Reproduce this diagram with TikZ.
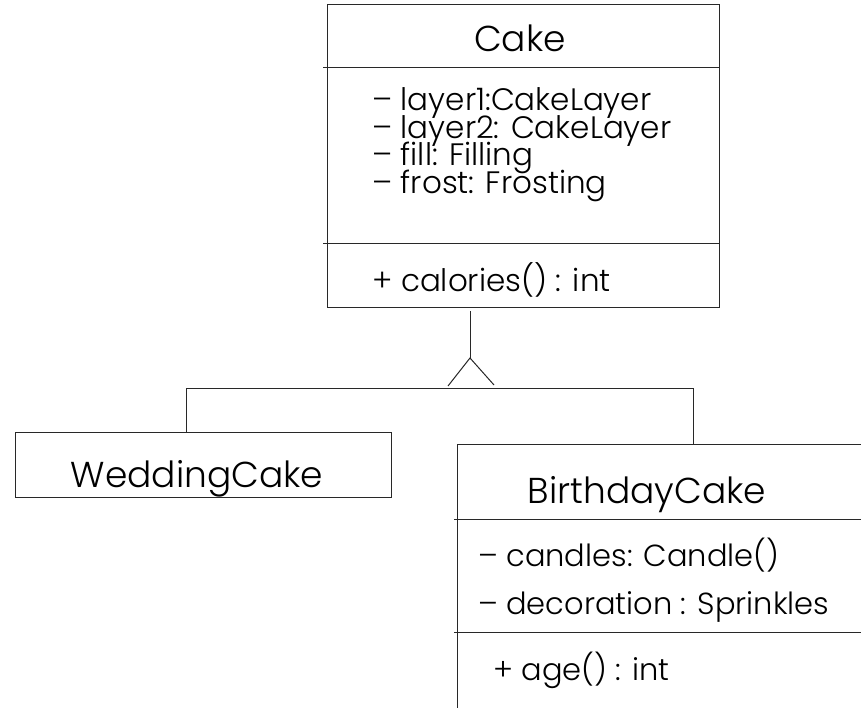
\documentclass[tikz,border=0pt]{standalone}
\usepackage{fontspec}
\setmainfont{Poppins}[UprightFont=* Light]
\usetikzlibrary{positioning}
\definecolor{linegray}{RGB}{40,40,40}

\tikzset{
  classbox/.style={draw=linegray, line width=1pt, inner sep=0pt},
  classname/.style={font=\fontsize{36}{40}\selectfont, anchor=base, inner sep=0pt},
  member/.style={font=\fontsize{31}{34}\selectfont, anchor=base west, inner sep=0pt},
  smallmember/.style={font=\fontsize{30.5}{34}\selectfont, anchor=base west, inner sep=0pt},
  link/.style={draw=linegray, line width=1pt},
}

\begin{document}
\begin{tikzpicture}[x=1pt,y=-1pt]

      \useasboundingbox (0,0) rectangle (861,708);
      \clip (0,0) rectangle (861,708);

      % class boxes
      \node[classbox, minimum width=392, minimum height=302] (cake)     at (523,156)   {};
      \node[classbox, minimum width=376, minimum height=65]  (wedding)  at (203,464.5) {};
      \node[classbox, minimum width=430, minimum height=300] (birthday) at (672,594)   {};

      % compartments
      \coordinate (cakesep1) at (323,68);
      \coordinate (cakesep2) at (323,244);
      \coordinate (bdaysep1) at (454,519);
      \coordinate (bdaysep2) at (454,632);
      \draw[link] (cakesep1) -- (cakesep1 -| cake.east);
      \draw[link] (cakesep2) -- (cakesep2 -| cake.east);
      \draw[link] (bdaysep1) -- (bdaysep1 -| birthday.east);
      \draw[link] (bdaysep2) -- (bdaysep2 -| birthday.east);

      % texts
      \node[classname] (cakename)     at (520,52)  {Cake};
      \node[classname] (weddingname)  at (197,487) {WeddingCake};
      \node[classname] (birthdayname) at (647,503) {BirthdayCake};

      \node[member] (layer1)   at (372,111)   {– layer1:CakeLayer};
      \node[member] (layer2)   at (372,138.5) {– layer2: CakeLayer};
      \node[member] (fill)     at (372,166)   {– fill: Filling};
      \node[member] (frost)    at (372,193.5) {– frost: Frosting};
      \node[member] (calories) at (372,291)   {+ calories() : int};

      \node[smallmember] (candles)    at (478,566) {– candles: Candle()};
      \node[smallmember] (decoration) at (478,614) {– decoration : Sprinkles};
      \node[smallmember] (age)        at (493,680) {+ age() : int};

      % generalisation
      \coordinate (stem) at (470,311);
      \coordinate (tip)  at (470,358);
      \coordinate (legl) at (448,386);
      \coordinate (legr) at (494,385);
      \coordinate (barl) at (186,388);
      \coordinate (barr) at (693,388);

      \draw[link] (stem) -- (tip);
      \draw[link] (legl) -- (tip) -- (legr);
      \draw[link] (wedding.north -| barl) -- (barl) -- (barr) -- (birthday.north -| barr);

    \end{tikzpicture}
\end{document}
